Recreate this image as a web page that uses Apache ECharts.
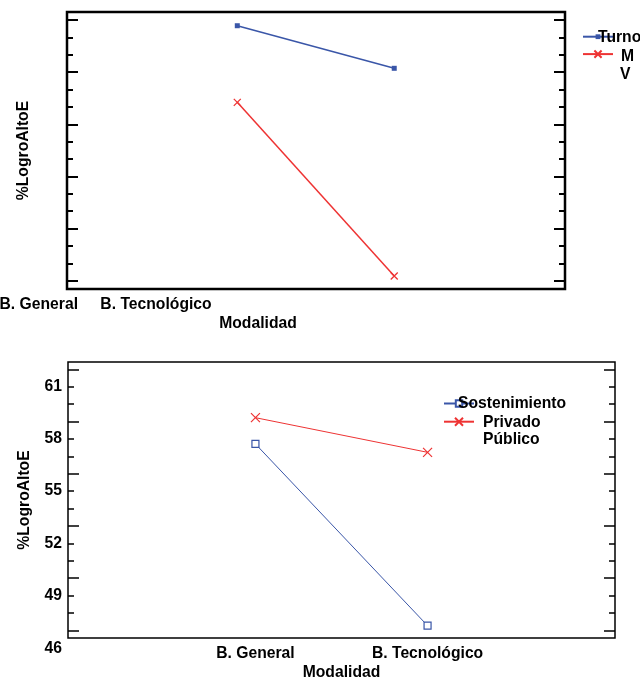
<!DOCTYPE html>
<html>
<head>
<meta charset="utf-8">
<script src="https://cdn.jsdelivr.net/npm/echarts@6/dist/echarts.min.js"></script>
<style>html,body{margin:0;padding:0;background:#fff}#c{width:640px;height:677px}</style>
</head>
<body>
<div id="c"></div>
<script>
// ---- data ----
var modalidad = ['B. General', 'B. Tecnológico'];
var turnoLevels = ['M', 'V'];
var turnoM = [61.67, 59.22];
var turnoV = [57.26, 47.27];
var sostLevels = ['Privado', 'Público'];
var sostPrivado = [57.71, 47.27];
var sostPublico = [59.22, 57.23];
var majorTicks = [47, 50, 53, 56, 59, 62];
var minorTicks = [47, 48, 49, 50, 51, 52, 53, 54, 55, 56, 57, 58, 59, 60, 61, 62];
var yTickLabels = [46, 49, 52, 55, 58, 61];

var BLUE = '#3a56a8', RED = '#ee3333';
var FONT = 'Liberation Sans, Arial, sans-serif';
var FS = 15.7;
var XPATH = 'path://M0,0L10,10M10,0L0,10';

function pts(vals) { return vals.map(function (v, i) { return [i + 1, v]; }); }

function yAx(g, pos, ticks, len, w, mn, mx, labels, name) {
  var a = {
    type: 'value', gridIndex: g, position: pos, min: mn, max: mx, offset: 0,
    axisLine: { show: false, onZero: false }, splitLine: { show: false },
    axisTick: { show: true, inside: true, length: len, customValues: ticks,
      lineStyle: { color: '#000', width: w } },
    axisLabel: { show: false }
  };
  if (labels) {
    a.axisLabel = { show: true, customValues: labels, margin: 6,
      color: '#000', fontFamily: FONT, fontWeight: 'bold', fontSize: FS };
  }
  if (name) {
    a.name = name; a.nameLocation = 'middle'; a.nameGap = 35;
    a.nameTextStyle = { color: '#000', fontFamily: FONT, fontWeight: 'bold', fontSize: FS };
  }
  return a;
}

function txt(t, x, y, align) {
  return { type: 'text', z: 10, style: { text: t, x: x, y: y, textAlign: align, textVerticalAlign: 'middle',
    font: 'bold ' + FS + 'px ' + FONT, fill: '#000' } };
}

function leg(name, left, top, h) {
  return { orient: 'vertical', left: left, top: top, padding: 0, itemWidth: 30, itemHeight: h,
    data: [name], formatter: function () { return ''; }, textStyle: { fontSize: 1 }, selectedMode: false };
}

var chart = echarts.init(document.getElementById('c'), null, { renderer: 'canvas' });
var option = {
  backgroundColor: '#fff',
  animation: false,
  grid: [
    { left: 67, right: 75, top: 12, height: 277, outerBoundsMode: 'none', containLabel: false,
      show: true, borderColor: '#000', borderWidth: 2.5, backgroundColor: 'transparent' },
    { left: 68, right: 25, top: 362, height: 276, outerBoundsMode: 'none', containLabel: false,
      show: true, borderColor: '#000', borderWidth: 1.5, backgroundColor: 'transparent' }
  ],
  xAxis: [
    { type: 'value', gridIndex: 0, min: -0.085, max: 3.088, axisLine: { show: false, onZero: false }, axisTick: { show: false },
      axisLabel: { show: false }, splitLine: { show: false } },
    { type: 'value', gridIndex: 1, min: -0.089, max: 3.089, axisLine: { show: false, onZero: false }, axisTick: { show: false },
      splitLine: { show: false },
      axisLabel: { show: true, customValues: [1, 2], margin: 8, color: '#000', fontFamily: FONT, fontWeight: 'bold', fontSize: FS,
        formatter: function (v) { return modalidad[Math.round(v) - 1] || ''; } },
      name: 'Modalidad', nameLocation: 'middle', nameGap: 26.5,
      nameTextStyle: { color: '#000', fontFamily: FONT, fontWeight: 'bold', fontSize: FS } }
  ],
  yAxis: [
    yAx(0, 'left', majorTicks, 11, 2, 46.52, 62.46, null, '%LogroAltoE'),
    yAx(0, 'left', minorTicks, 6, 2, 46.52, 62.46),
    yAx(0, 'right', majorTicks, 11, 2, 46.52, 62.46),
    yAx(0, 'right', minorTicks, 6, 2, 46.52, 62.46),
    yAx(1, 'left', majorTicks, 11, 1.5, 46.56, 62.42, yTickLabels, '%LogroAltoE'),
    yAx(1, 'left', minorTicks, 6, 1.5, 46.56, 62.42),
    yAx(1, 'right', majorTicks, 11, 1.5, 46.56, 62.42),
    yAx(1, 'right', minorTicks, 6, 1.5, 46.56, 62.42)
  ],
  legend: [
    leg(turnoLevels[0], 582, 33.7, 6),
    leg(turnoLevels[1], 582, 49.5, 9),
    leg(sostLevels[0], 443, 399.3, 8),
    leg(sostLevels[1], 443, 416.7, 10)
  ],
  series: [
    { type: 'line', name: turnoLevels[0], xAxisIndex: 0, yAxisIndex: 0, data: pts(turnoM),
      symbol: 'rect', symbolSize: 5, lineStyle: { color: BLUE, width: 1.5 }, itemStyle: { color: BLUE } },
    { type: 'line', name: turnoLevels[1], xAxisIndex: 0, yAxisIndex: 0, data: pts(turnoV),
      symbol: XPATH, symbolSize: 7, lineStyle: { color: RED, width: 1.5 },
      itemStyle: { color: RED, borderColor: RED, borderWidth: 1.3 } },
    { type: 'line', name: sostLevels[0], xAxisIndex: 1, yAxisIndex: 4, data: pts(sostPrivado),
      symbol: 'rect', symbolSize: 7, lineStyle: { color: BLUE, width: 1 },
      itemStyle: { color: '#fff', borderColor: BLUE, borderWidth: 1.2 } },
    { type: 'line', name: sostLevels[1], xAxisIndex: 1, yAxisIndex: 4, data: pts(sostPublico),
      symbol: XPATH, symbolSize: 9, lineStyle: { color: RED, width: 1 },
      itemStyle: { color: RED, borderColor: RED, borderWidth: 1.2 } }
  ],
  graphic: [
    txt(modalidad[0], 78, 304.5, 'right'),
    txt(modalidad[1], 156, 304.5, 'center'),
    txt('Modalidad', 258, 323.5, 'center'),
    txt('Turno', 598, 37.5, 'left'),
    txt(turnoLevels[0], 621, 56.5, 'left'),
    txt(turnoLevels[1], 620, 74.5, 'left'),
    txt('Sostenimiento', 458, 404, 'left'),
    txt(sostLevels[0], 483, 423, 'left'),
    txt(sostLevels[1], 483, 440, 'left'),
    txt(String(yTickLabels[0]), 62, 649, 'right')
  ]
};
chart.setOption(option);
</script>
</body>
</html>
